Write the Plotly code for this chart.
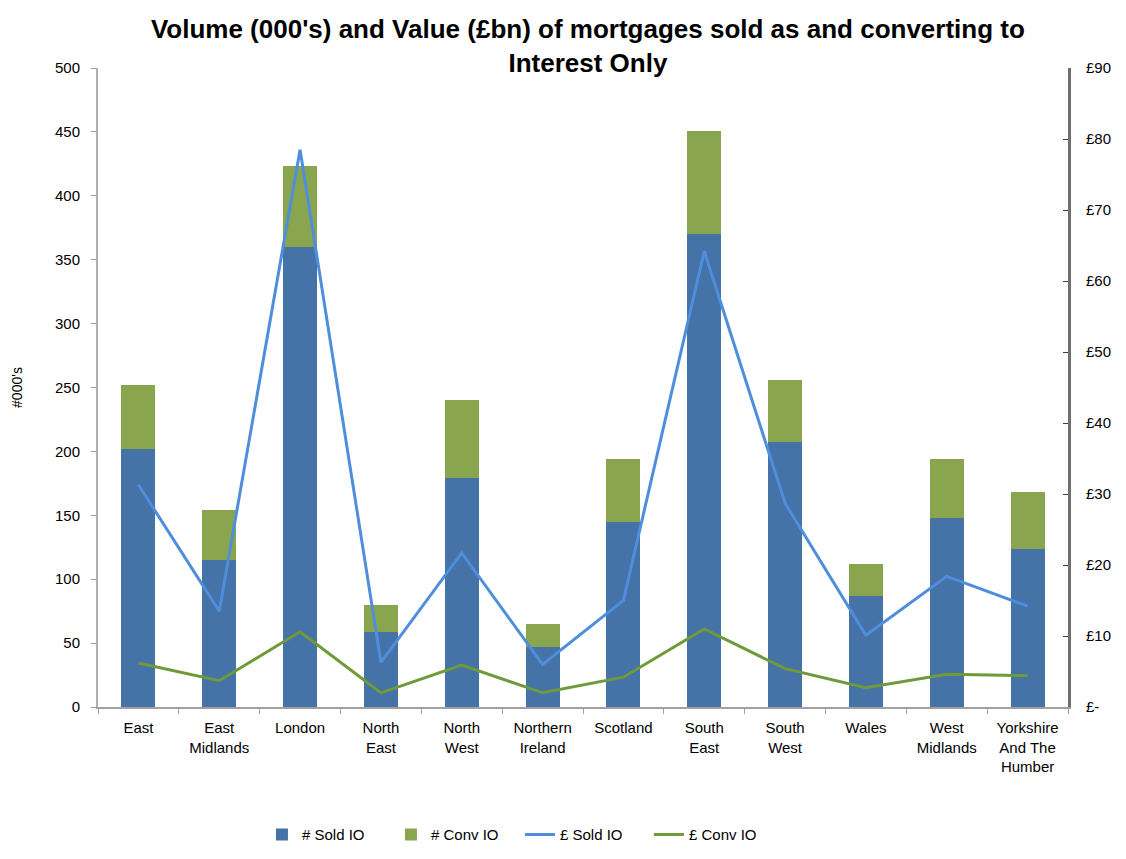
import plotly.graph_objects as go

regions = ["East", "East<br>Midlands", "London", "North<br>East", "North<br>West", "Northern<br>Ireland",
           "Scotland", "South<br>East", "South<br>West", "Wales", "West<br>Midlands", "Yorkshire<br>And The<br>Humber"]
sold_vol = [202, 115, 360, 59, 179, 47, 145, 370, 207, 87, 148, 124]
conv_vol = [50, 39, 63, 21, 61, 18, 49, 81, 49, 25, 46, 44]
sold_val = [31.3, 13.5, 78.5, 6.3, 21.7, 6.0, 15.0, 64.2, 28.7, 10.1, 18.4, 14.2]
conv_val = [6.2, 3.7, 10.6, 2.0, 5.9, 2.0, 4.2, 11.0, 5.4, 2.7, 4.6, 4.4]

left_ticks = list(range(0, 501, 50))
right_ticks = list(range(0, 91, 10))
right_text = ["£-"] + [f"£{v}" for v in right_ticks[1:]]

FONT = "Liberation Sans, Arial"

fig = go.Figure()
fig.add_trace(go.Bar(x=regions, y=sold_vol, name="# Sold IO", marker=dict(color="#4572A7", line=dict(width=0)), width=0.42))
fig.add_trace(go.Bar(x=regions, y=conv_vol, name="# Conv IO", marker=dict(color="#89A54E", line=dict(width=0)), width=0.42))
fig.add_trace(go.Scatter(x=regions, y=sold_val, name="£ Sold IO", mode="lines", line=dict(color="#4F8EDC", width=3), yaxis="y2"))
fig.add_trace(go.Scatter(x=regions, y=conv_val, name="£ Conv IO", mode="lines", line=dict(color="#6E9A3A", width=3), yaxis="y2"))

fig.update_layout(
    width=1126, height=859,
    barmode="stack",
    paper_bgcolor="white", plot_bgcolor="white",
    margin=dict(l=90, r=66, t=60, b=160, autoexpand=False),
    font=dict(family=FONT, size=14, color="black"),
    title=dict(text="<b>Volume (000's) and Value (£bn) of mortgages sold as and converting to<br>Interest Only</b>",
               x=0.515, xanchor="center", y=1 - 30 / 859, yanchor="top", font=dict(size=26, family=FONT)),
    xaxis=dict(showline=True, linecolor="#A0A0A0", linewidth=2, ticks="outside", tickson="boundaries",
               ticklen=5, tickcolor="#A0A0A0", showgrid=False, tickfont=dict(size=15),
               ticklabelstandoff=6, automargin=False),
    yaxis=dict(range=[0, 500], tickvals=left_ticks, showline=True, linecolor="#B0B0B0", linewidth=2,
               ticks="outside", ticklen=5, tickcolor="#A0A0A0", showgrid=False, zeroline=False,
               tickfont=dict(size=15), ticklabelstandoff=8, automargin=False,
               title=dict(text="#000's", standoff=29, font=dict(size=14))),
    yaxis2=dict(range=[0, 90], tickvals=right_ticks, ticktext=right_text, overlaying="y", side="right",
                showline=True, linecolor="#707070", linewidth=3, ticks="inside", ticklen=5, tickcolor="#404040",
                showgrid=False, zeroline=False, tickfont=dict(size=15), ticklabelstandoff=12, automargin=False),
    legend=dict(orientation="h", x=0.435, xanchor="center", y=-0.2, yanchor="middle",
                font=dict(size=15), traceorder="normal", entrywidth=84, entrywidthmode="pixels"),
    showlegend=True,
)

fig.write_html("out.html")
